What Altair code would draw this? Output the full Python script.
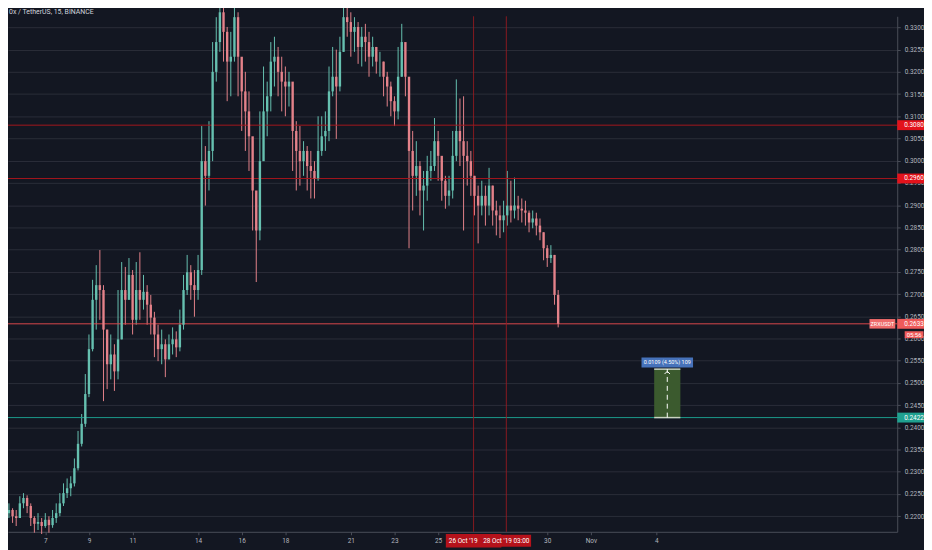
import altair as alt
import pandas as pd

TITLE = "0x / TetherUS, 15, BINANCE"

# 4-hour candles, starting Oct 5 04:00 (x in days of October)
CANDLE_START = 5.1667
CANDLE_STEP = 1 / 6
FIRST_OPEN = 0.2214

closes = [
    0.2207, 0.2214, 0.2200, 0.2196, 0.2229, 0.2241, 0.2223, 0.2196, 0.2183, 0.2187,
    0.2178, 0.2192, 0.2180, 0.2196, 0.2207, 0.2229, 0.2252, 0.2263, 0.2274, 0.2308,
    0.2363, 0.2408, 0.2475, 0.2576, 0.2687, 0.2720, 0.2709, 0.2620, 0.2542, 0.2564,
    0.2526, 0.2598, 0.2709, 0.2687, 0.2743, 0.2642, 0.2709, 0.2687, 0.2705, 0.2676,
    0.2647, 0.2609, 0.2576, 0.2587, 0.2553, 0.2587, 0.2598, 0.2580, 0.2631, 0.2709,
    0.2749, 0.2720, 0.2709, 0.2754, 0.2999, 0.2966, 0.3022, 0.3200, 0.3267, 0.3334,
    0.3290, 0.3223, 0.3234, 0.3323, 0.3234, 0.3156, 0.3111, 0.3055, 0.2933, 0.2843,
    0.2999, 0.3111, 0.3145, 0.3223, 0.3234, 0.3200, 0.3178, 0.3167, 0.3178, 0.3067,
    0.3022, 0.2999, 0.3022, 0.2988, 0.2977, 0.2960, 0.3022, 0.3055, 0.3067, 0.3156,
    0.3189, 0.3167, 0.3245, 0.3323, 0.3312, 0.3290, 0.3301, 0.3256, 0.3279, 0.3267,
    0.3234, 0.3256, 0.3223, 0.3223, 0.3189, 0.3167, 0.3134, 0.3111, 0.3189, 0.3267,
    0.3189, 0.3022, 0.2966, 0.2988, 0.2933, 0.2944, 0.2977, 0.2988, 0.3044, 0.3011,
    0.2955, 0.2921, 0.2933, 0.3011, 0.3067, 0.3044, 0.3011, 0.2999, 0.2966, 0.2921,
    0.2899, 0.2921, 0.2899, 0.2944, 0.2888, 0.2877, 0.2866, 0.2877, 0.2899, 0.2888,
    0.2899, 0.2892, 0.2888, 0.2883, 0.2861, 0.2870, 0.2854, 0.2839, 0.2803, 0.2781,
    0.2788, 0.2698, 0.2633,
]
highs = [
    0.2223, 0.2229, 0.2218, 0.2214, 0.2245, 0.2252, 0.2247, 0.2229, 0.2200, 0.2207,
    0.2196, 0.2207, 0.2200, 0.2214, 0.2229, 0.2252, 0.2274, 0.2285, 0.2290, 0.2330,
    0.2392, 0.2430, 0.2520, 0.2609, 0.2732, 0.2765, 0.2799, 0.2720, 0.2620, 0.2609,
    0.2587, 0.2709, 0.2772, 0.2761, 0.2781, 0.2754, 0.2772, 0.2794, 0.2743, 0.2720,
    0.2698, 0.2660, 0.2631, 0.2620, 0.2598, 0.2609, 0.2625, 0.2616, 0.2665, 0.2743,
    0.2788, 0.2765, 0.2754, 0.2788, 0.3078, 0.3033, 0.3089, 0.3267, 0.3323, 0.3360,
    0.3360, 0.3301, 0.3290, 0.3360, 0.3334, 0.3223, 0.3200, 0.3156, 0.3044, 0.2921,
    0.3111, 0.3212, 0.3178, 0.3267, 0.3279, 0.3256, 0.3234, 0.3212, 0.3200, 0.3167,
    0.3089, 0.3078, 0.3044, 0.3033, 0.3022, 0.2999, 0.3100, 0.3100, 0.3111, 0.3212,
    0.3256, 0.3250, 0.3279, 0.3360, 0.3360, 0.3334, 0.3323, 0.3312, 0.3301, 0.3308,
    0.3290, 0.3279, 0.3256, 0.3245, 0.3223, 0.3200, 0.3178, 0.3145, 0.3256, 0.3308,
    0.3256, 0.3156, 0.3067, 0.3044, 0.2999, 0.2977, 0.3011, 0.3022, 0.3096, 0.3067,
    0.2999, 0.2966, 0.2966, 0.3067, 0.3183, 0.3140, 0.3145, 0.3044, 0.3022, 0.2966,
    0.2944, 0.2955, 0.2944, 0.2984, 0.2944, 0.2910, 0.2899, 0.2910, 0.2977, 0.2955,
    0.2962, 0.2921, 0.2915, 0.2910, 0.2888, 0.2888, 0.2883, 0.2870, 0.2839, 0.2810,
    0.2810, 0.2788, 0.2709,
]
lows = [
    0.2192, 0.2196, 0.2185, 0.2178, 0.2200, 0.2218, 0.2207, 0.2178, 0.2163, 0.2169,
    0.2160, 0.2174, 0.2163, 0.2174, 0.2185, 0.2200, 0.2223, 0.2241, 0.2245, 0.2267,
    0.2303, 0.2357, 0.2401, 0.2468, 0.2571, 0.2620, 0.2642, 0.2459, 0.2486, 0.2508,
    0.2482, 0.2508, 0.2598, 0.2631, 0.2687, 0.2609, 0.2631, 0.2642, 0.2665, 0.2631,
    0.2609, 0.2558, 0.2549, 0.2542, 0.2513, 0.2553, 0.2564, 0.2558, 0.2571, 0.2620,
    0.2698, 0.2687, 0.2649, 0.2687, 0.2743, 0.2899, 0.2933, 0.2999, 0.3178, 0.3245,
    0.3223, 0.3134, 0.3145, 0.3223, 0.3145, 0.3067, 0.3022, 0.2977, 0.2843, 0.2727,
    0.2821, 0.3022, 0.3055, 0.3111, 0.3167, 0.3145, 0.3111, 0.3100, 0.3122, 0.2977,
    0.2933, 0.2944, 0.2966, 0.2933, 0.2915, 0.2915, 0.2955, 0.3011, 0.3022, 0.3044,
    0.3145, 0.3049, 0.3156, 0.3245, 0.3279, 0.3234, 0.3245, 0.3218, 0.3212, 0.3223,
    0.3189, 0.3212, 0.3196, 0.3189, 0.3145, 0.3122, 0.3100, 0.3078, 0.3093, 0.3189,
    0.3145, 0.2803, 0.2888, 0.2921, 0.2877, 0.2843, 0.2910, 0.2955, 0.2977, 0.2955,
    0.2910, 0.2892, 0.2899, 0.2915, 0.2999, 0.2988, 0.2843, 0.2944, 0.2921, 0.2877,
    0.2814, 0.2877, 0.2854, 0.2877, 0.2854, 0.2832, 0.2826, 0.2839, 0.2854, 0.2861,
    0.2870, 0.2866, 0.2861, 0.2854, 0.2839, 0.2848, 0.2832, 0.2821, 0.2776, 0.2761,
    0.2770, 0.2676, 0.2625,
]

x_ticks = [7, 9, 11, 14, 16, 18, 21, 23, 25, 30, 32, 35]
y_ticks = [0.2200, 0.2250, 0.2300, 0.2350, 0.2400, 0.2450, 0.2500, 0.2550, 0.2600,
           0.2650, 0.2700, 0.2750, 0.2800, 0.2850, 0.2900, 0.2950, 0.3000, 0.3050,
           0.3100, 0.3150, 0.3200, 0.3250, 0.3300, 0.3350]

level_prices = [0.3080, 0.2960, 0.2633, 0.2422]
level_labels = ["0.3080", "0.2960", "0.2633", "0.2422"]
level_line_colors = ["#a3161d", "#a3161d", "#d9474b", "#1c9a8b"]
level_badge_colors = ["#e3121b", "#e3121b", "#ef5a5a", "#1fa190"]

cross_days = [26.625, 28.125]
cross_labels = ["26 Oct '19", "28 Oct '19  03:00"]

measure_days = [34.9, 36.1]
measure_mid = 35.5
measure_low = 0.2422
measure_high = 0.2531
measure_label = "0.0109 (4.50%) 109"
measure_label_price = 0.2546
symbol_label = "ZRXUSDT"
countdown_label = "05:56"

W, H = 897, 520
XS = alt.Scale(domain=[5.518, 45.81], nice=False, zero=False)
YS = alt.Scale(domain=[0.2165, 0.3325], nice=False, zero=False)
FONT = "Roboto"
AX = "#4a4e59"

X_AXIS = alt.Axis(values=x_ticks, format="d",
                  labelExpr="datum.value == 32 ? 'Nov' : datum.value == 35 ? '4' : datum.label",
                  grid=False, title=None, domainColor=AX, tickColor=AX, tickSize=3,
                  labelColor="#b2b5be", labelFontSize=6.5, labelPadding=3, labelFont=FONT,
                  labelFlush=False, labelOverlap=False)
Y_AXIS = alt.Axis(orient="right", values=y_ticks, format=".4f", grid=True,
                  gridColor="#2a2e39", gridWidth=1, title=None, domainColor=AX,
                  tickColor=AX, tickSize=3, labelColor="#b2b5be", labelFontSize=6.5,
                  labelPadding=4, labelFont=FONT, labelOverlap=False, labelFlush=False)


def X(field):
    return alt.X(field, type="quantitative", scale=XS, axis=X_AXIS)


def Y(field):
    return alt.Y(field, type="quantitative", scale=YS, axis=Y_AXIS)


opens = [FIRST_OPEN] + closes[:-1]
candles = pd.DataFrame({
    "day": [CANDLE_START + i * CANDLE_STEP for i in range(len(closes))],
    "open": opens, "close": closes, "high": highs, "low": lows,
})
candles["up"] = candles["close"] >= candles["open"]
candles["col"] = candles["up"].map({True: "#66c0b0", False: "#e4828a"})

wicks = alt.Chart(candles).mark_rule(strokeWidth=1).encode(
    x=X("day"), y=Y("low"), y2="high:Q",
    color=alt.Color("col:N", scale=None),
)
bodies = alt.Chart(candles).mark_bar(size=2.4).encode(
    x=X("day"), y=Y("open"), y2="close:Q",
    color=alt.Color("col:N", scale=None),
)

levels = pd.DataFrame({"price": level_prices, "label": level_labels,
                       "lc": level_line_colors, "bc": level_badge_colors})
level_lines = alt.Chart(levels).mark_rule(strokeWidth=1).encode(
    y=Y("price"), color=alt.Color("lc:N", scale=None),
)

cross = pd.DataFrame({"day": cross_days, "label": cross_labels, "k": [0, 1]})
cross_lines = alt.Chart(cross).mark_rule(strokeWidth=1, color="#9c1a20", opacity=0.85).encode(
    x=X("day"),
)

RECT = "M-1,-0.37L1,-0.37L1,0.37L-1,0.37Z"
CROSS_RECT = "M-1,-0.24L1,-0.24L1,0.24L-1,0.24Z"


def cross_label_layers(k, size, align, dx):
    base = alt.Chart(cross).transform_filter(alt.datum.k == k)
    bg = base.mark_point(shape=CROSS_RECT, filled=True, opacity=1, color="#b5121b",
                         strokeWidth=0, size=size).encode(x=X("day"), y=alt.value(H + 9))
    tx = base.mark_text(color="white", fontSize=6.5, font=FONT, align=align, dx=dx).encode(
        x=X("day"), y=alt.value(H + 9), text="label:N")
    return [bg, tx]


level_badges = alt.Chart(levels).mark_point(shape=RECT, filled=True, opacity=1, size=729,
                                             strokeWidth=0).encode(
    x=alt.value(W + 13.5), y=Y("price"), color=alt.Color("bc:N", scale=None),
)
level_text = alt.Chart(levels).mark_text(color="white", fontSize=6.5, font=FONT, align="left").encode(
    x=alt.value(W + 7), y=Y("price"), text="label:N",
)

cur = pd.DataFrame({"price": [level_prices[2]], "sym": [symbol_label], "cd": [countdown_label]})
sym_badge = alt.Chart(cur).mark_point(shape=RECT, filled=True, opacity=1, size=676,
                                       strokeWidth=0, color="#ef6b6b").encode(
    x=alt.value(W - 15), y=Y("price"))
sym_text = alt.Chart(cur).mark_text(color="white", fontSize=5.5, font=FONT).encode(
    x=alt.value(W - 15), y=Y("price"), text="sym:N")
cd_badge = alt.Chart(cur).mark_point(shape=RECT, filled=True, opacity=1, size=361,
                                      strokeWidth=0, color="#ef5a5a", yOffset=11).encode(
    x=alt.value(W + 17), y=Y("price"))
cd_text = alt.Chart(cur).mark_text(color="white", fontSize=6, font=FONT, dy=11).encode(
    x=alt.value(W + 17), y=Y("price"), text="cd:N")

meas = pd.DataFrame({"d1": [measure_days[0]], "d2": [measure_days[1]], "mid": [measure_mid],
                     "lo": [measure_low], "hi": [measure_high],
                     "lp": [measure_label_price], "label": [measure_label]})
meas_box = alt.Chart(meas).mark_rect(color="#3b5a2e", opacity=1).encode(
    x=X("d1"), x2="d2:Q", y=Y("lo"), y2="hi:Q")
meas_top = alt.Chart(meas).mark_rule(color="#c9d3c2", strokeWidth=1.5).encode(
    x=X("d1"), x2="d2:Q", y=Y("hi"))
meas_bot = alt.Chart(meas).mark_rule(color="#c9d3c2", strokeWidth=1.5).encode(
    x=X("d1"), x2="d2:Q", y=Y("lo"))
meas_dash = alt.Chart(meas).mark_rule(color="white", strokeWidth=1, strokeDash=[5, 4]).encode(
    x=X("mid"), y=Y("lo"), y2="hi:Q")
meas_arrow = alt.Chart(meas).mark_point(shape="M-1,0.7L0,-0.3L1,0.7", filled=False, size=30,
                                        color="white", strokeWidth=1, opacity=1, yOffset=3).encode(
    x=X("mid"), y=Y("hi"))
meas_lbl_bg = alt.Chart(meas).mark_point(shape="M-1,-0.19L1,-0.19L1,0.19L-1,0.19Z", filled=True,
                                         opacity=1, size=2704, color="#4672ba", strokeWidth=0).encode(
    x=X("mid"), y=Y("lp"))
meas_lbl = alt.Chart(meas).mark_text(color="white", fontSize=5.5, font=FONT).encode(
    x=X("mid"), y=Y("lp"), text="label:N")

title_df = pd.DataFrame({"t": [TITLE]})
title = alt.Chart(title_df).mark_text(color="#d1d4dc", fontSize=7, font=FONT, align="left",
                                      baseline="middle").encode(
    x=alt.value(1), y=alt.value(-4), text="t:N")

layers = [wicks, level_lines, cross_lines, bodies,
          meas_box, meas_top, meas_bot, meas_dash, meas_arrow, meas_lbl_bg, meas_lbl,
          sym_badge, sym_text, level_badges, level_text, cd_badge, cd_text]
layers += cross_label_layers(0, 3136, "left", -25) + cross_label_layers(1, 2500, "center", 0)
layers += [title]

chart = alt.layer(*layers).properties(
    width=W, height=H,
    autosize=alt.AutoSizeParams(type="none"),
    padding={"left": 0, "top": 6, "right": 27, "bottom": 16},
    background="#131722",
).configure_view(strokeWidth=0)

chart.save("out.html", embed_options={"renderer": "svg", "actions": False})
